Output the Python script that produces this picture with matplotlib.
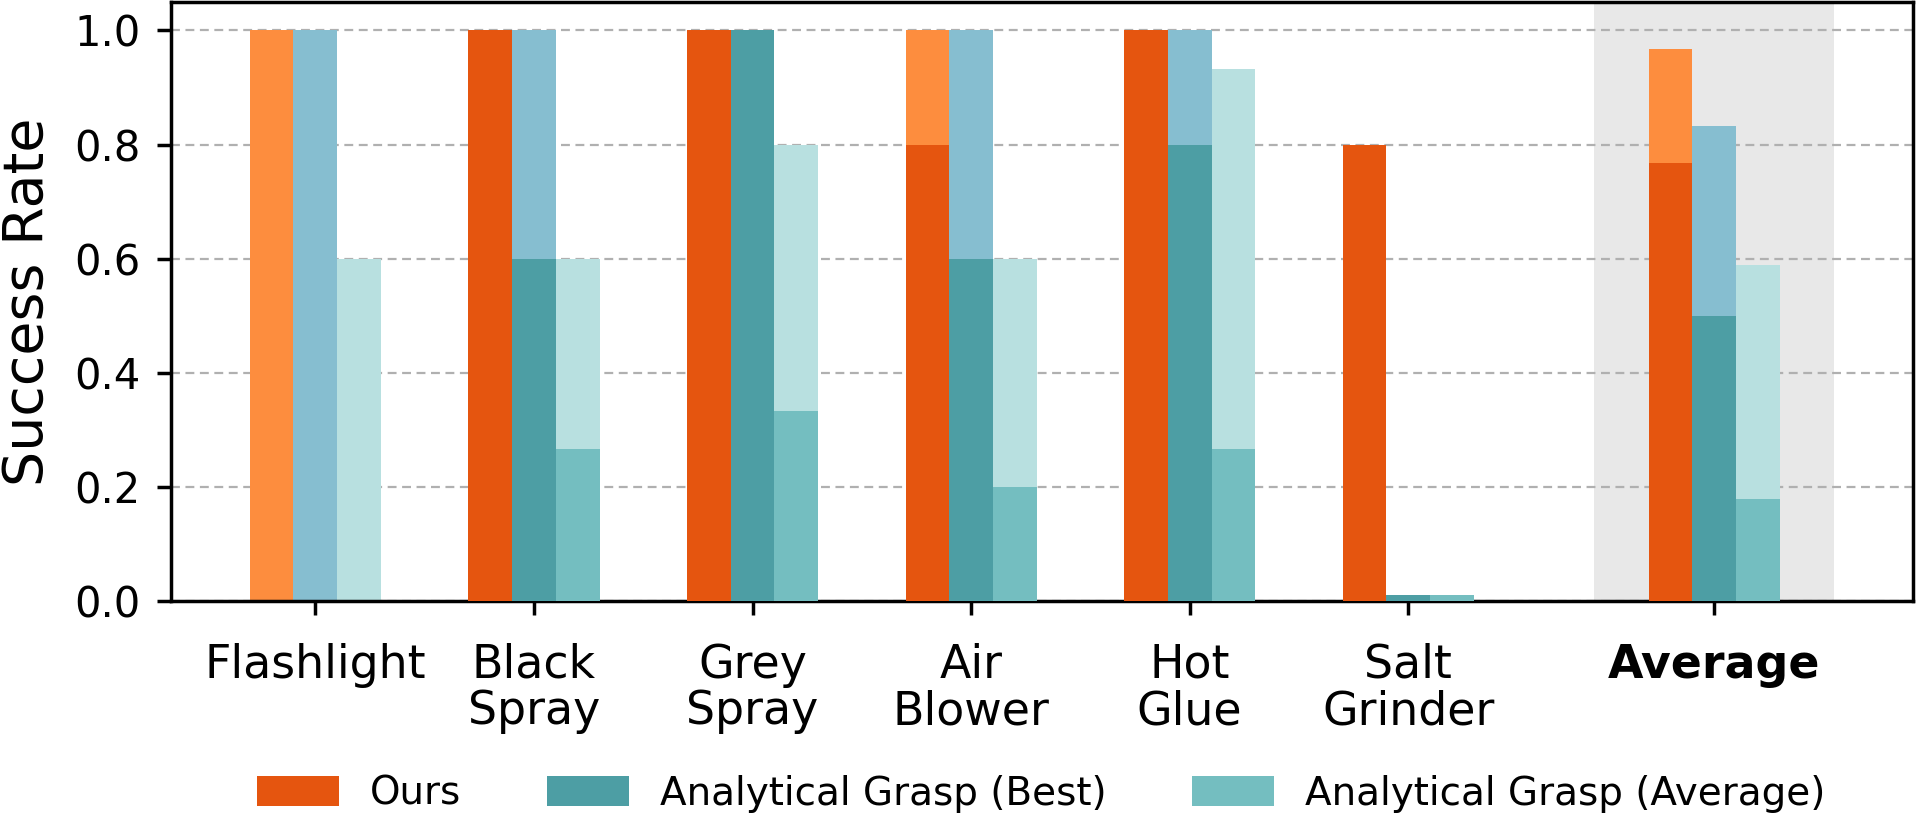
import numpy as np
from matplotlib import pyplot as plt
from matplotlib.patches import Patch

# objects and success rates (dark = lower value, light = upper value)
objects = ["Flashlight", "Black\nSpray", "Grey\nSpray", "Air\nBlower", "Hot\nGlue", "Salt\nGrinder", "Average"]

ours_low = [0.0, 1.0, 1.0, 0.8, 1.0, 0.8, 0.767]
ours_high = [1.0, 1.0, 1.0, 1.0, 1.0, 0.8, 0.967]

best_low = [0.0, 0.6, 1.0, 0.6, 0.8, 0.01, 0.5]
best_high = [1.0, 1.0, 1.0, 1.0, 1.0, 0.01, 0.833]

avg_low = [0.0, 0.267, 0.333, 0.2, 0.267, 0.01, 0.178]
avg_high = [0.6, 0.6, 0.8, 0.6, 0.933, 0.01, 0.589]

series = ["Ours", "Analytical Grasp (Best)", "Analytical Grasp (Average)"]
dark_colors = ["#E5550F", "#4D9EA4", "#74BEC0"]
light_colors = ["#FD8D3E", "#86BED0", "#B8E0E0"]

x = np.array([0, 1, 2, 3, 4, 5, 6.4])
w = 0.2

fig = plt.figure(figsize=(19.16, 8.15), dpi=100)
ax = fig.add_axes([0.0893, 0.2626, 0.9092, 0.735])

ax.axvspan(5.85, 6.95, color="#E8E8E8", zorder=0, lw=0)

lows = [ours_low, best_low, avg_low]
highs = [ours_high, best_high, avg_high]
for i in range(3):
    xs = x + (i - 1) * w
    ax.bar(xs, highs[i], w, color=light_colors[i], zorder=2)
    ax.bar(xs, lows[i], w, color=dark_colors[i], zorder=3)

ax.set_xlim(-0.66, 7.31)
ax.set_ylim(0, 1.05)
ax.set_yticks([0, 0.2, 0.4, 0.6, 0.8, 1.0])
ax.set_yticklabels(["0.0", "0.2", "0.4", "0.6", "0.8", "1.0"], fontsize=30)
ax.set_xticks(x)
ax.set_xticklabels(objects, fontsize=33, va="top", linespacing=1.05)
ax.get_xticklabels()[-1].set_fontweight("bold")
ax.tick_params(axis="x", length=10, width=2.5, pad=20)
ax.tick_params(axis="y", length=10, width=2.5, pad=12)
ax.set_ylabel("Success Rate", fontsize=40, labelpad=14)

ax.set_axisbelow(True)
ax.yaxis.grid(True, linestyle=(0, (4, 2.5)), color="#B0B0B0", linewidth=1.6)
for s in ax.spines.values():
    s.set_linewidth(2.5)

handles = [Patch(facecolor=c) for c in dark_colors]
fig.legend(handles, series, loc="center", bbox_to_anchor=(0.5435, 0.026), ncol=3,
           frameon=False, fontsize=28, handlelength=2.1, handleheight=0.8,
           handletextpad=0.8, columnspacing=2.2)

fig.savefig("out.png", dpi=100)
